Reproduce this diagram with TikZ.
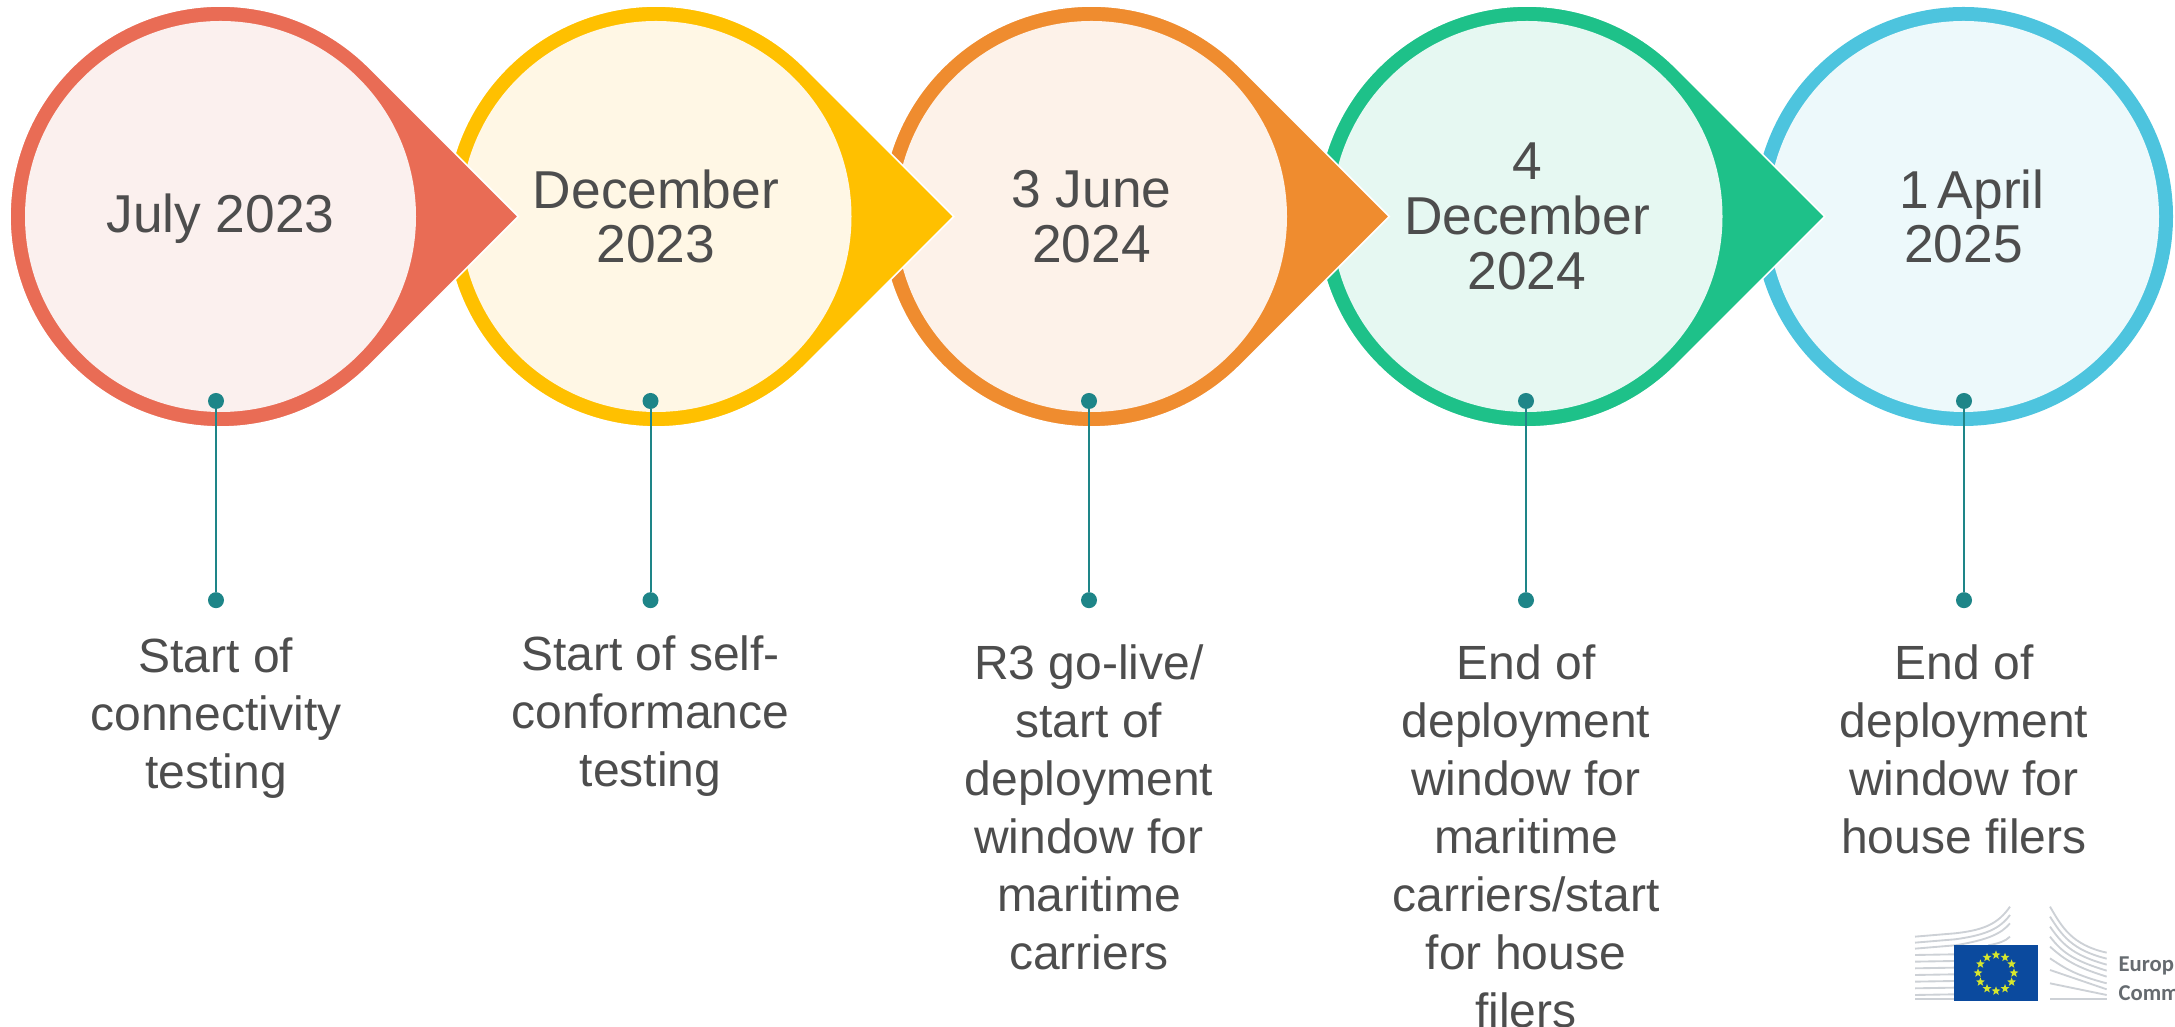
\documentclass[tikz,border=0pt]{standalone}
\usepackage{fontspec}
\setmainfont{Liberation Sans}
\newfontfamily\logofont{Carlito}
\usetikzlibrary{shapes.geometric}

\definecolor{txtgray}{HTML}{4D4D4D}
\definecolor{teal}{HTML}{1E8588}
\definecolor{redring}{HTML}{E96C55}
\definecolor{redfill}{HTML}{FBF0EE}
\definecolor{yelring}{HTML}{FFC000}
\definecolor{yelfill}{HTML}{FFF7E5}
\definecolor{orgring}{HTML}{EF8C2F}
\definecolor{orgfill}{HTML}{FDF2E9}
\definecolor{grnring}{HTML}{1EC189}
\definecolor{grnfill}{HTML}{E6F8F2}
\definecolor{bluring}{HTML}{4DC4DE}
\definecolor{blufill}{HTML}{EDF9FB}
\definecolor{euroblue}{HTML}{0B4A9E}
\definecolor{eurostar}{HTML}{D6E62E}
\definecolor{bldgray}{HTML}{CDD1D6}
\definecolor{logogray}{HTML}{666B70}

\tikzset{
	datecircle/.style={circle, minimum size=293.25pt, inner sep=0pt, align=center,
		text=txtgray, font=\fontsize{40}{41}\selectfont},
	dot/.style={circle, fill=teal, minimum size=12pt, inner sep=0pt},
	milestone/.style={align=center, anchor=north, inner sep=0pt, text=txtgray,
		font=\fontsize{36}{43.5}\selectfont},
	eustar/.style={star, star points=5, star point ratio=2.4, fill=eurostar,
		minimum size=7pt, inner sep=0pt},
	bldline/.style={draw=bldgray, line width=1.4pt},
	logotext/.style={anchor=base west, inner sep=0pt, text=logogray,
		font=\logofont\fontsize{17}{17}\selectfont\bfseries}
}

% ring with a point to the right, white edge over the next circle
\newcommand{\teardrop}[2]{
	\filldraw[fill=#2, draw=white, line width=1.2pt] (#1) ++(45:210.5) arc[start angle=45, end angle=315, radius=210.5]
		-- ++(45:210.5) -- cycle;
}

\begin{document}
\begin{tikzpicture}[x=0.75pt, y=0.75pt, node distance=149.4pt]
			\useasboundingbox (0,0) rectangle (2175,1027);

			% drawn from the right, each point lies over the next circle
			\coordinate (p5) at (1963.5,810.5);
			\coordinate (p4) at (1527,810.5);
			\coordinate (p3) at (1091.5,810.5);
			\coordinate (p2) at (656,810.5);
			\coordinate (p1) at (220.5,810.5);

			\fill[bluring] (p5) circle[radius=209.5];
			\node[datecircle, fill=blufill] (c5) at (p5) {\hspace*{12.8pt}1\hspace{-4.5pt} April\\2025};
			\teardrop{p4}{grnring}
			\node[datecircle, fill=grnfill] (c4) at (p4) {4\\December\\2024};
			\teardrop{p3}{orgring}
			\node[datecircle, fill=orgfill] (c3) at (p3) {3 June\\2024};
			\teardrop{p2}{yelring}
			\node[datecircle, fill=yelfill] (c2) at (p2) {December\\2023};
			\teardrop{p1}{redring}
			\node[datecircle, fill=redfill, text depth=5.4pt] (c1) at (p1) {July 2023};

			\node[dot] (top1) at (216,626) {};
			\node[dot] (top2) at (650.5,626) {};
			\node[dot] (top3) at (1089,626) {};
			\node[dot] (top4) at (1526,626) {};
			\node[dot] (top5) at (1964,626) {};
			\node[dot] (bot1) [below of=top1] {};
			\node[dot] (bot2) [below of=top2] {};
			\node[dot] (bot3) [below of=top3] {};
			\node[dot] (bot4) [below of=top4] {};
			\node[dot] (bot5) [below of=top5] {};

			\path[draw=teal, line width=1.5pt]
			(top1) edge (bot1)
			(top2) edge (bot2)
			(top3) edge (bot3)
			(top4) edge (bot4)
			(top5) edge (bot5);

			\node[milestone] (label1) at (216,389) {Start of\\connectivity\\testing};
			\node[milestone] (label2) at (650.5,392) {Start of self-\\conformance\\testing};
			\node[milestone] (label3) at (1089,383) {R3 go-live/\\start of\\deployment\\window for\\maritime\\carriers};
			\node[milestone] (label4) at (1526,383) {End of\\deployment\\window for\\maritime\\carriers/start\\for house\\filers};
			\node[milestone] (label5) at (1964,383) {End of\\deployment\\window for\\house filers};

			% logo, in units of a third of a pixel from its corner
			\begin{scope}[shift={(1875,147)}, x=0.25pt, y=-0.25pt]
				\draw[bldline] (120,170) -- (240,160) .. controls (330,150) and (370,130) .. (405,80);
				\draw[bldline] (120,188) -- (240,178) .. controls (335,165) and (375,145) .. (405,105);
				\draw[bldline] (120,206) -- (240,196) .. controls (340,180) and (380,160) .. (405,130);
				\draw[bldline] (340,196) .. controls (370,190) and (390,185) .. (405,170);
				\foreach \ypos in {225,245,265,285,305,325,345}
					\draw[bldline] (120,\ypos) -- (238,\ypos-2);
				\draw[bldline] (120,358) -- (238,358);
				\draw[bldline] (525,80) .. controls (560,140) and (590,195) .. (695,218);
				\draw[bldline] (525,110) .. controls (560,165) and (590,210) .. (695,236);
				\draw[bldline] (525,140) .. controls (560,190) and (590,225) .. (695,254);
				\draw[bldline] (525,170) .. controls (560,215) and (590,240) .. (695,272);
				\draw[bldline] (525,200) .. controls (570,240) and (600,260) .. (695,290);
				\draw[bldline] (525,235) .. controls (570,265) and (600,285) .. (695,310);
				\draw[bldline] (525,270) -- (695,328);
				\draw[bldline] (525,310) -- (695,345);
				\draw[bldline] (525,358) -- (695,358);

				\node[fill=euroblue, minimum width=62.5pt, minimum height=41.5pt, inner sep=0pt] (flag) at (363,279) {};
				\foreach \ang in {0,30,...,330}
					\node[eustar] (star\ang) at (363,279) [xshift={13.5pt*cos(\ang)}, yshift={13.5pt*sin(\ang)}] {};
				\node[logotext] (euline1) at (730,275) {Europ};
				\node[logotext] (euline2) at (730,362) {Comm};
			\end{scope}
		\end{tikzpicture}
\end{document}
